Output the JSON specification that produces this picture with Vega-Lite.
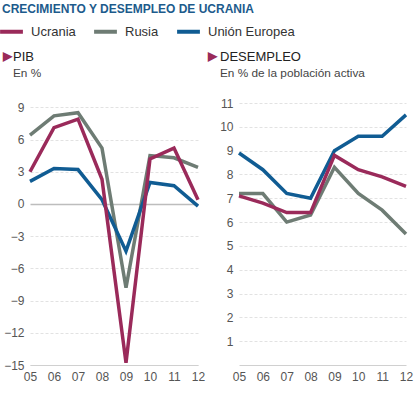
{
  "$schema": "https://vega.github.io/schema/vega-lite/v6.json",
  "padding": {"left": -2, "top": 3, "right": 6, "bottom": 4},
  "background": "white",
  "title": {
    "text": "CRECIMIENTO Y DESEMPLEO DE UCRANIA",
    "anchor": "start",
    "dx": 4,
    "color": "#1d5b8c",
    "fontSize": 12,
    "font": "Liberation Sans",
    "fontWeight": "bold",
    "offset": 2
  },
  "data": {
    "values": [
      {"ind": "PIB", "year": "05", "pais": "Rusia", "value": 6.4},
      {"ind": "PIB", "year": "06", "pais": "Rusia", "value": 8.2},
      {"ind": "PIB", "year": "07", "pais": "Rusia", "value": 8.5},
      {"ind": "PIB", "year": "08", "pais": "Rusia", "value": 5.2},
      {"ind": "PIB", "year": "09", "pais": "Rusia", "value": -7.8},
      {"ind": "PIB", "year": "10", "pais": "Rusia", "value": 4.5},
      {"ind": "PIB", "year": "11", "pais": "Rusia", "value": 4.3},
      {"ind": "PIB", "year": "12", "pais": "Rusia", "value": 3.4},
      {"ind": "PIB", "year": "05", "pais": "Unión Europea", "value": 2.1},
      {"ind": "PIB", "year": "06", "pais": "Unión Europea", "value": 3.3},
      {"ind": "PIB", "year": "07", "pais": "Unión Europea", "value": 3.2},
      {"ind": "PIB", "year": "08", "pais": "Unión Europea", "value": 0.4},
      {"ind": "PIB", "year": "09", "pais": "Unión Europea", "value": -4.4},
      {"ind": "PIB", "year": "10", "pais": "Unión Europea", "value": 2.0},
      {"ind": "PIB", "year": "11", "pais": "Unión Europea", "value": 1.7},
      {"ind": "PIB", "year": "12", "pais": "Unión Europea", "value": -0.2},
      {"ind": "PIB", "year": "05", "pais": "Ucrania", "value": 3.0},
      {"ind": "PIB", "year": "06", "pais": "Ucrania", "value": 7.1},
      {"ind": "PIB", "year": "07", "pais": "Ucrania", "value": 7.9},
      {"ind": "PIB", "year": "08", "pais": "Ucrania", "value": 2.3},
      {"ind": "PIB", "year": "09", "pais": "Ucrania", "value": -14.8},
      {"ind": "PIB", "year": "10", "pais": "Ucrania", "value": 4.2},
      {"ind": "PIB", "year": "11", "pais": "Ucrania", "value": 5.2},
      {"ind": "PIB", "year": "12", "pais": "Ucrania", "value": 0.4},
      {"ind": "DES", "year": "05", "pais": "Rusia", "value": 7.2},
      {"ind": "DES", "year": "06", "pais": "Rusia", "value": 7.2},
      {"ind": "DES", "year": "07", "pais": "Rusia", "value": 6.0},
      {"ind": "DES", "year": "08", "pais": "Rusia", "value": 6.3},
      {"ind": "DES", "year": "09", "pais": "Rusia", "value": 8.3},
      {"ind": "DES", "year": "10", "pais": "Rusia", "value": 7.2},
      {"ind": "DES", "year": "11", "pais": "Rusia", "value": 6.5},
      {"ind": "DES", "year": "12", "pais": "Rusia", "value": 5.5},
      {"ind": "DES", "year": "05", "pais": "Unión Europea", "value": 8.9},
      {"ind": "DES", "year": "06", "pais": "Unión Europea", "value": 8.2},
      {"ind": "DES", "year": "07", "pais": "Unión Europea", "value": 7.2},
      {"ind": "DES", "year": "08", "pais": "Unión Europea", "value": 7.0},
      {"ind": "DES", "year": "09", "pais": "Unión Europea", "value": 9.0},
      {"ind": "DES", "year": "10", "pais": "Unión Europea", "value": 9.6},
      {"ind": "DES", "year": "11", "pais": "Unión Europea", "value": 9.6},
      {"ind": "DES", "year": "12", "pais": "Unión Europea", "value": 10.5},
      {"ind": "DES", "year": "05", "pais": "Ucrania", "value": 7.1},
      {"ind": "DES", "year": "06", "pais": "Ucrania", "value": 6.8},
      {"ind": "DES", "year": "07", "pais": "Ucrania", "value": 6.4},
      {"ind": "DES", "year": "08", "pais": "Ucrania", "value": 6.4},
      {"ind": "DES", "year": "09", "pais": "Ucrania", "value": 8.8},
      {"ind": "DES", "year": "10", "pais": "Ucrania", "value": 8.2},
      {"ind": "DES", "year": "11", "pais": "Ucrania", "value": 7.9},
      {"ind": "DES", "year": "12", "pais": "Ucrania", "value": 7.5}
    ]
  },
  "spacing": 41,
  "bounds": "flush",
  "hconcat": [
    {
      "width": 168,
      "height": 262,
      "transform": [{"filter": "datum.ind === 'PIB'"}],
      "title": {"text": "PIB", "subtitle": "En %", "frame": "group", "dx": -17, "offset": -31},
      "mark": {"type": "line", "strokeWidth": 3.5},
      "encoding": {
        "x": {"field": "year", "type": "ordinal", "scale": {"type": "point", "padding": 0}, "axis": {"title": null}},
        "y": {
          "field": "value", "type": "quantitative",
          "scale": {"domain": [-15, 9.4], "nice": false, "zero": false},
          "axis": {
            "title": "▶", "titleAngle": 0, "titleColor": "#9a2a5a", "titleFontSize": 12,
            "titleX": -28, "titleY": -48, "titleAlign": "left", "titleBaseline": "middle",
            "values": [-15, -12, -9, -6, -3, 0, 3, 6, 9],
            "gridColor": {"condition": {"test": "datum.value === 0", "value": "#bdbdbd"}, "value": "#e2e2e2"},
            "gridDash": {"condition": {"test": "datum.value === 0", "value": []}, "value": [3, 2]},
            "gridWidth": {"condition": {"test": "datum.value === 0", "value": 1.5}, "value": 1}
          }
        },
        "color": {
          "field": "pais", "type": "nominal",
          "scale": {"domain": ["Ucrania", "Rusia", "Unión Europea"], "range": ["#9a2a5a", "#6e7c74", "#105c93"]},
          "legend": {
            "title": null, "orient": "none", "legendX": -32, "legendY": -85, "direction": "horizontal",
            "symbolType": "stroke", "symbolStrokeWidth": 4, "symbolSize": 520,
            "labelFontSize": 13, "labelColor": "#333", "labelFont": "Liberation Sans",
            "columnPadding": 10, "labelOffset": 6
          }
        },
        "detail": {"field": "pais"}
      }
    },
    {
      "width": 167,
      "height": 262,
      "transform": [{"filter": "datum.ind === 'DES'"}],
      "title": {"text": "DESEMPLEO", "subtitle": "En % de la población activa", "frame": "group", "dx": -19, "offset": -31},
      "mark": {"type": "line", "strokeWidth": 3.5},
      "encoding": {
        "x": {"field": "year", "type": "ordinal", "scale": {"type": "point", "padding": 0}, "axis": {"title": null}},
        "y": {
          "field": "value", "type": "quantitative",
          "scale": {"domain": [0, 11], "nice": false},
          "axis": {
            "title": "▶", "titleAngle": 0, "titleColor": "#9a2a5a", "titleFontSize": 12,
            "titleX": -32, "titleY": -48, "titleAlign": "left", "titleBaseline": "middle",
            "values": [1, 2, 3, 4, 5, 6, 7, 8, 9, 10, 11],
            "gridColor": "#e2e2e2", "gridDash": [3, 2]
          }
        },
        "color": {"field": "pais", "type": "nominal"},
        "detail": {"field": "pais"}
      }
    }
  ],
  "resolve": {"scale": {"y": "independent", "color": "shared"}},
  "config": {
    "font": "Liberation Sans",
    "view": {"stroke": null},
    "title": {
      "anchor": "start", "fontSize": 13, "fontWeight": "normal", "color": "#222",
      "subtitleFontSize": 11.8, "subtitleColor": "#444", "subtitlePadding": 4
    },
    "axis": {
      "labelFont": "Liberation Sans", "labelFontSize": 12, "labelColor": "#555",
      "ticks": false, "domain": false, "gridColor": "#e2e2e2", "gridWidth": 1
    },
    "axisX": {"domain": true, "domainColor": "#d0d0d0", "labelPadding": 6, "labelAngle": 0},
    "axisY": {"labelPadding": 6}
  }
}
